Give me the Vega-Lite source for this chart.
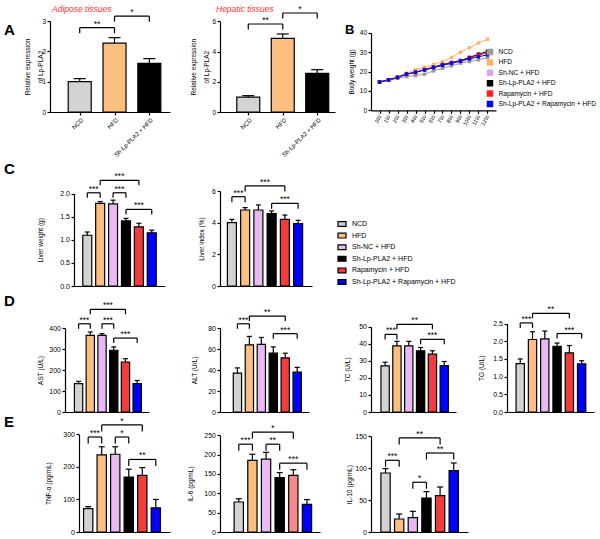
{
"$schema":"https://vega.github.io/schema/vega-lite/v6.json",
"padding":{"left":4,"top":4,"right":0,"bottom":2},
"bounds":"flush",
"align":"none",
"columns":4,
"spacing":0,
"resolve":{"scale":{"fill":"independent","color":"independent"}},
"title":{"text":"A","anchor":"start","frame":"group","fontSize":15,"fontWeight":"bold","offset":0,"dx":-46,"dy":45,"baseline":"alphabetic"},
"config":{"font":"Liberation Sans","view":{"stroke":null},
"axis":{"grid":false,"domainColor":"#000","domainWidth":1.2,"tickColor":"#000","tickWidth":1.2,"tickSize":3,"labelColor":"#000","labelFontSize":7,"titleColor":"#000","titleFontSize":6.5,"titleFontWeight":"normal","labelPadding":1.5},
"axisX":{"labels":false,"ticks":false},
"legend":{"labelColor":"#000"},
"title":{"color":"#000"}},
"datasets":{
"d":[
{"p":"A1","g":"NCD","i":1,"m":1.0,"hi":1.1},
{"p":"A1","g":"HFD","i":2,"m":2.27,"hi":2.45},
{"p":"A1","g":"Sh-Lp-PLA2 + HFD","i":3,"m":1.6,"hi":1.76},
{"p":"A1","b":1,"i":1,"to":2,"m":2.78,"t":"**"},
{"p":"A1","b":2,"i":2,"to":3,"m":3.16,"t":"*"},
{"p":"A2","g":"NCD","i":1,"m":0.98,"hi":1.08},
{"p":"A2","g":"HFD","i":2,"m":4.87,"hi":5.16},
{"p":"A2","g":"Sh-Lp-PLA2 + HFD","i":3,"m":2.55,"hi":2.8},
{"p":"A2","b":1,"i":1,"to":2,"m":5.82,"t":"**"},
{"p":"A2","b":2,"i":2,"to":3,"m":6.55,"t":"*"},
{"p":"C1","g":"NCD","i":1,"m":1.1,"hi":1.17},
{"p":"C1","g":"HFD","i":2,"m":1.79,"hi":1.83},
{"p":"C1","g":"Sh-NC + HFD","i":3,"m":1.78,"hi":1.86},
{"p":"C1","g":"Sh-Lp-PLA2 + HFD","i":4,"m":1.41,"hi":1.465},
{"p":"C1","g":"Rapamycin + HFD","i":5,"m":1.28,"hi":1.36},
{"p":"C1","g":"Sh-Lp-PLA2 + Rapamycin + HFD","i":6,"m":1.15,"hi":1.21},
{"p":"C1","b":1,"i":1,"to":2,"m":2.02,"t":"***"},
{"p":"C1","b":2,"i":2,"to":5,"m":2.29,"t":"***"},
{"p":"C1","b":3,"i":3,"to":4,"m":2.02,"t":"***"},
{"p":"C1","b":4,"i":4,"to":6,"m":1.66,"t":"***"},
{"p":"C2","g":"NCD","i":1,"m":4.0,"hi":4.21},
{"p":"C2","g":"HFD","i":2,"m":4.8,"hi":4.95},
{"p":"C2","g":"Sh-NC + HFD","i":3,"m":4.8,"hi":5.12},
{"p":"C2","g":"Sh-Lp-PLA2 + HFD","i":4,"m":4.57,"hi":4.74},
{"p":"C2","g":"Rapamycin + HFD","i":5,"m":4.21,"hi":4.48},
{"p":"C2","g":"Sh-Lp-PLA2 + Rapamycin + HFD","i":6,"m":3.94,"hi":4.15},
{"p":"C2","b":1,"i":1,"to":2,"m":5.64,"t":"***"},
{"p":"C2","b":2,"i":2,"to":5,"m":6.32,"t":"***"},
{"p":"C2","b":3,"i":4,"to":6,"m":5.22,"t":"***"},
{"p":"AST","g":"NCD","i":1,"m":135,"hi":146},
{"p":"AST","g":"HFD","i":2,"m":365,"hi":381},
{"p":"AST","g":"Sh-NC + HFD","i":3,"m":365,"hi":373},
{"p":"AST","g":"Sh-Lp-PLA2 + HFD","i":4,"m":294,"hi":310},
{"p":"AST","g":"Rapamycin + HFD","i":5,"m":238,"hi":254},
{"p":"AST","g":"Sh-Lp-PLA2 + Rapamycin + HFD","i":6,"m":135,"hi":150},
{"p":"AST","b":1,"i":1,"to":2,"m":420,"t":"***"},
{"p":"AST","b":2,"i":2,"to":5,"m":489,"t":"***"},
{"p":"AST","b":3,"i":3,"to":4,"m":420,"t":"***"},
{"p":"AST","b":4,"i":4,"to":6,"m":352,"t":"***"},
{"p":"ALT","g":"NCD","i":1,"m":37,"hi":42},
{"p":"ALT","g":"HFD","i":2,"m":64,"hi":72},
{"p":"ALT","g":"Sh-NC + HFD","i":3,"m":64.5,"hi":71},
{"p":"ALT","g":"Sh-Lp-PLA2 + HFD","i":4,"m":56,"hi":62},
{"p":"ALT","g":"Rapamycin + HFD","i":5,"m":51.5,"hi":56},
{"p":"ALT","g":"Sh-Lp-PLA2 + Rapamycin + HFD","i":6,"m":38,"hi":42.5},
{"p":"ALT","b":1,"i":1,"to":2,"m":84,"t":"***"},
{"p":"ALT","b":2,"i":2,"to":5,"m":91.4,"t":"**"},
{"p":"ALT","b":3,"i":4,"to":6,"m":74.6,"t":"***"},
{"p":"TC","g":"NCD","i":1,"m":27,"hi":29.2},
{"p":"TC","g":"HFD","i":2,"m":38.8,"hi":41.4},
{"p":"TC","g":"Sh-NC + HFD","i":3,"m":38.8,"hi":41.4},
{"p":"TC","g":"Sh-Lp-PLA2 + HFD","i":4,"m":35.9,"hi":37.8},
{"p":"TC","g":"Rapamycin + HFD","i":5,"m":33.9,"hi":35.9},
{"p":"TC","g":"Sh-Lp-PLA2 + Rapamycin + HFD","i":6,"m":27.2,"hi":29.6},
{"p":"TC","b":1,"i":1,"to":2,"m":45.5,"t":"***"},
{"p":"TC","b":2,"i":2,"to":5,"m":51.4,"t":"**"},
{"p":"TC","b":3,"i":4,"to":6,"m":42.6,"t":"***"},
{"p":"TG","g":"NCD","i":1,"m":1.37,"hi":1.5},
{"p":"TG","g":"HFD","i":2,"m":2.05,"hi":2.27},
{"p":"TG","g":"Sh-NC + HFD","i":3,"m":2.07,"hi":2.29},
{"p":"TG","g":"Sh-Lp-PLA2 + HFD","i":4,"m":1.86,"hi":1.95},
{"p":"TG","g":"Rapamycin + HFD","i":5,"m":1.67,"hi":1.88},
{"p":"TG","g":"Sh-Lp-PLA2 + Rapamycin + HFD","i":6,"m":1.36,"hi":1.45},
{"p":"TG","b":1,"i":1,"to":2,"m":2.52,"t":"***"},
{"p":"TG","b":2,"i":2,"to":5,"m":2.79,"t":"**"},
{"p":"TG","b":3,"i":4,"to":6,"m":2.22,"t":"***"},
{"p":"TNF","g":"NCD","i":1,"m":72,"hi":78},
{"p":"TNF","g":"HFD","i":2,"m":237,"hi":262},
{"p":"TNF","g":"Sh-NC + HFD","i":3,"m":239,"hi":262},
{"p":"TNF","g":"Sh-Lp-PLA2 + HFD","i":4,"m":169,"hi":193},
{"p":"TNF","g":"Rapamycin + HFD","i":5,"m":174,"hi":198},
{"p":"TNF","g":"Sh-Lp-PLA2 + Rapamycin + HFD","i":6,"m":74,"hi":100},
{"p":"TNF","b":1,"i":1,"to":2,"m":292,"t":"***"},
{"p":"TNF","b":2,"i":2,"to":5,"m":329,"t":"*"},
{"p":"TNF","b":3,"i":3,"to":4,"m":292,"t":"*"},
{"p":"TNF","b":4,"i":4,"to":6,"m":223,"t":"**"},
{"p":"IL6","g":"NCD","i":1,"m":77.6,"hi":86},
{"p":"IL6","g":"HFD","i":2,"m":185,"hi":201},
{"p":"IL6","g":"Sh-NC + HFD","i":3,"m":188.6,"hi":206},
{"p":"IL6","g":"Sh-Lp-PLA2 + HFD","i":4,"m":140.5,"hi":153.5},
{"p":"IL6","g":"Rapamycin + HFD","i":5,"m":146.5,"hi":161},
{"p":"IL6","g":"Sh-Lp-PLA2 + Rapamycin + HFD","i":6,"m":71.6,"hi":83.7},
{"p":"IL6","b":1,"i":1,"to":2,"m":227,"t":"***"},
{"p":"IL6","b":2,"i":2,"to":5,"m":258,"t":"*"},
{"p":"IL6","b":3,"i":3,"to":4,"m":227,"t":"**"},
{"p":"IL6","b":4,"i":4,"to":6,"m":178,"t":"***"},
{"p":"IL10","g":"NCD","i":1,"m":92.5,"hi":99.4},
{"p":"IL10","g":"HFD","i":2,"m":20.4,"hi":28.2},
{"p":"IL10","g":"Sh-NC + HFD","i":3,"m":22.6,"hi":32.4},
{"p":"IL10","g":"Sh-Lp-PLA2 + HFD","i":4,"m":53.3,"hi":63.3},
{"p":"IL10","g":"Rapamycin + HFD","i":5,"m":57,"hi":70.5},
{"p":"IL10","g":"Sh-Lp-PLA2 + Rapamycin + HFD","i":6,"m":96.2,"hi":108.2},
{"p":"IL10","b":1,"i":1,"to":2,"m":112.4,"t":"***"},
{"p":"IL10","b":2,"i":2,"to":5,"m":147.4,"t":"**"},
{"p":"IL10","b":3,"i":3,"to":4,"m":78,"t":"*"},
{"p":"IL10","b":4,"i":4,"to":6,"m":123.8,"t":"**"}
],
"bw":[
{"g":"NCD","w":0,"v":14.6},{"g":"NCD","w":1,"v":15.5},{"g":"NCD","w":2,"v":16.5},{"g":"NCD","w":3,"v":17.4},{"g":"NCD","w":4,"v":17.9},{"g":"NCD","w":5,"v":18.6},{"g":"NCD","w":6,"v":20.3},{"g":"NCD","w":7,"v":21.7},{"g":"NCD","w":8,"v":22.9},{"g":"NCD","w":9,"v":24.3},{"g":"NCD","w":10,"v":25.1},{"g":"NCD","w":11,"v":26.0},{"g":"NCD","w":12,"v":27.2},
{"g":"HFD","w":0,"v":14.6},{"g":"HFD","w":1,"v":15.7},{"g":"HFD","w":2,"v":17.3},{"g":"HFD","w":3,"v":19.1},{"g":"HFD","w":4,"v":20.9},{"g":"HFD","w":5,"v":22.2},{"g":"HFD","w":6,"v":23.6},{"g":"HFD","w":7,"v":25.1},{"g":"HFD","w":8,"v":27.3},{"g":"HFD","w":9,"v":29.9},{"g":"HFD","w":10,"v":32.3},{"g":"HFD","w":11,"v":34.7},{"g":"HFD","w":12,"v":36.6},
{"g":"Sh-NC + HFD","w":0,"v":14.6},{"g":"Sh-NC + HFD","w":1,"v":15.6},{"g":"Sh-NC + HFD","w":2,"v":17.0},{"g":"Sh-NC + HFD","w":3,"v":18.8},{"g":"Sh-NC + HFD","w":4,"v":19.7},{"g":"Sh-NC + HFD","w":5,"v":21.1},{"g":"Sh-NC + HFD","w":6,"v":22.3},{"g":"Sh-NC + HFD","w":7,"v":23.7},{"g":"Sh-NC + HFD","w":8,"v":24.8},{"g":"Sh-NC + HFD","w":9,"v":25.8},{"g":"Sh-NC + HFD","w":10,"v":27.4},{"g":"Sh-NC + HFD","w":11,"v":29.0},{"g":"Sh-NC + HFD","w":12,"v":30.5},
{"g":"Sh-Lp-PLA2 + HFD","w":0,"v":14.6},{"g":"Sh-Lp-PLA2 + HFD","w":1,"v":15.6},{"g":"Sh-Lp-PLA2 + HFD","w":2,"v":16.9},{"g":"Sh-Lp-PLA2 + HFD","w":3,"v":18.7},{"g":"Sh-Lp-PLA2 + HFD","w":4,"v":19.5},{"g":"Sh-Lp-PLA2 + HFD","w":5,"v":21.0},{"g":"Sh-Lp-PLA2 + HFD","w":6,"v":22.2},{"g":"Sh-Lp-PLA2 + HFD","w":7,"v":23.6},{"g":"Sh-Lp-PLA2 + HFD","w":8,"v":24.6},{"g":"Sh-Lp-PLA2 + HFD","w":9,"v":25.6},{"g":"Sh-Lp-PLA2 + HFD","w":10,"v":27.2},{"g":"Sh-Lp-PLA2 + HFD","w":11,"v":28.9},{"g":"Sh-Lp-PLA2 + HFD","w":12,"v":30.3},
{"g":"Rapamycin + HFD","w":0,"v":14.6},{"g":"Rapamycin + HFD","w":1,"v":15.6},{"g":"Rapamycin + HFD","w":2,"v":16.9},{"g":"Rapamycin + HFD","w":3,"v":18.6},{"g":"Rapamycin + HFD","w":4,"v":19.6},{"g":"Rapamycin + HFD","w":5,"v":20.9},{"g":"Rapamycin + HFD","w":6,"v":22.0},{"g":"Rapamycin + HFD","w":7,"v":23.3},{"g":"Rapamycin + HFD","w":8,"v":24.4},{"g":"Rapamycin + HFD","w":9,"v":25.4},{"g":"Rapamycin + HFD","w":10,"v":26.8},{"g":"Rapamycin + HFD","w":11,"v":28.4},{"g":"Rapamycin + HFD","w":12,"v":29.6},
{"g":"Sh-Lp-PLA2 + Rapamycin + HFD","w":0,"v":14.6},{"g":"Sh-Lp-PLA2 + Rapamycin + HFD","w":1,"v":15.7},{"g":"Sh-Lp-PLA2 + Rapamycin + HFD","w":2,"v":17.0},{"g":"Sh-Lp-PLA2 + Rapamycin + HFD","w":3,"v":18.6},{"g":"Sh-Lp-PLA2 + Rapamycin + HFD","w":4,"v":19.6},{"g":"Sh-Lp-PLA2 + Rapamycin + HFD","w":5,"v":20.8},{"g":"Sh-Lp-PLA2 + Rapamycin + HFD","w":6,"v":22.0},{"g":"Sh-Lp-PLA2 + Rapamycin + HFD","w":7,"v":23.2},{"g":"Sh-Lp-PLA2 + Rapamycin + HFD","w":8,"v":24.2},{"g":"Sh-Lp-PLA2 + Rapamycin + HFD","w":9,"v":25.3},{"g":"Sh-Lp-PLA2 + Rapamycin + HFD","w":10,"v":26.5},{"g":"Sh-Lp-PLA2 + Rapamycin + HFD","w":11,"v":27.6},{"g":"Sh-Lp-PLA2 + Rapamycin + HFD","w":12,"v":28.6}
]},
"concat":[
 {"width":159,"height":91,
  "title":{"text":"Adipose tissues","anchor":"start","frame":"group","fontSize":8.5,"fontStyle":"italic","fontWeight":"normal","color":"#ff3030","offset":0,"dx":2,"dy":12.7,"baseline":"alphabetic"},
  "data":{"name":"d"},"transform":[{"filter":{"field":"p","equal":"A1"}}],
  "encoding":{"x":{"field":"i","type":"quantitative","scale":{"domain":[0.29,3.45],"range":[0,120],"zero":false,"nice":false},"axis":{"title":null,"labels":true,"ticks":true,"values":[1,2,3],"labelExpr":"['','NCD','HFD','Sh-Lp-PLA2 + HFD'][datum.value]","labelAngle":-45,"labelFontSize":6,"labelOverlap":false}},
   "y":{"field":"m","type":"quantitative","scale":{"domain":[0,3],"range":[91,0],"nice":false},"axis":{"title":["Relative expression","of Lp-PLA2"],"values":[0,1,2,3],"titlePadding":-2,"titleLineHeight":13.5,"labelFontSize":6.5}}},
  "layer":[
   {"transform":[{"filter":"isValid(datum.hi)"}],"mark":{"type":"bar","orient":"vertical","size":23,"stroke":"black","strokeWidth":1.2},"encoding":{"fill":{"field":"g","type":"nominal","scale":{"domain":["NCD","HFD","Sh-NC + HFD","Sh-Lp-PLA2 + HFD","Rapamycin + HFD","Sh-Lp-PLA2 + Rapamycin + HFD"],"range":["#d3d3d3","#fdbf80","#e8b9f3","#000000","#f23b3b","#0000ff"]},"legend":null}}},
   {"transform":[{"filter":"isValid(datum.hi)"}],"mark":{"type":"rule","strokeWidth":1.2},"encoding":{"y2":{"field":"hi"}}},
   {"transform":[{"filter":"isValid(datum.hi)"}],"mark":{"type":"rule","strokeWidth":1.2,"xOffset":-6,"x2Offset":6},"encoding":{"x2":{"field":"i"},"y":{"field":"hi","type":"quantitative"}}},
   {"transform":[{"filter":"isValid(datum.t)"}],"mark":{"type":"rule","strokeWidth":1.2},"encoding":{"x2":{"field":"to"}}},
   {"transform":[{"filter":"isValid(datum.t)"},{"fold":["i","to"],"as":["e","i"]}],"mark":{"type":"rule","strokeWidth":1.2,"y2Offset":5.5},"encoding":{"y2":{"field":"m"}}},
   {"transform":[{"filter":"isValid(datum.t)"},{"fold":["i","to"],"as":["e","i"]},{"aggregate":[{"op":"mean","field":"i","as":"i"}],"groupby":["b","m","t"]}],"mark":{"type":"text","fontSize":8.5,"baseline":"alphabetic","dy":-1},"encoding":{"text":{"field":"t","type":"nominal"}}}
  ]},
 {"width":151,"height":91,
  "title":{"text":"Hepatic tissues","anchor":"start","frame":"group","fontSize":8.5,"fontStyle":"italic","fontWeight":"normal","color":"#ff3030","offset":0,"dx":-4,"dy":15.8,"baseline":"alphabetic"},
  "data":{"name":"d"},"transform":[{"filter":{"field":"p","equal":"A2"}}],
  "encoding":{"x":{"field":"i","type":"quantitative","scale":{"domain":[0.325,3.37],"range":[0,115],"zero":false,"nice":false},"axis":{"title":null,"labels":true,"ticks":true,"values":[1,2,3],"labelExpr":"['','NCD','HFD','Sh-Lp-PLA2 + HFD'][datum.value]","labelAngle":-45,"labelFontSize":6,"labelOverlap":false}},
   "y":{"field":"m","type":"quantitative","scale":{"domain":[0,6],"range":[91,0.3],"nice":false},"axis":{"title":["Relative expression","of Lp-PLA2"],"values":[0,2,4,6],"titlePadding":2,"titleLineHeight":13.5,"labelFontSize":6.5}}},
  "layer":[
   {"transform":[{"filter":"isValid(datum.hi)"}],"mark":{"type":"bar","orient":"vertical","size":23,"stroke":"black","strokeWidth":1.2},"encoding":{"fill":{"field":"g","type":"nominal","scale":{"domain":["NCD","HFD","Sh-NC + HFD","Sh-Lp-PLA2 + HFD","Rapamycin + HFD","Sh-Lp-PLA2 + Rapamycin + HFD"],"range":["#d3d3d3","#fdbf80","#e8b9f3","#000000","#f23b3b","#0000ff"]},"legend":null}}},
   {"transform":[{"filter":"isValid(datum.hi)"}],"mark":{"type":"rule","strokeWidth":1.2},"encoding":{"y2":{"field":"hi"}}},
   {"transform":[{"filter":"isValid(datum.hi)"}],"mark":{"type":"rule","strokeWidth":1.2,"xOffset":-6,"x2Offset":6},"encoding":{"x2":{"field":"i"},"y":{"field":"hi","type":"quantitative"}}},
   {"transform":[{"filter":"isValid(datum.t)"}],"mark":{"type":"rule","strokeWidth":1.2},"encoding":{"x2":{"field":"to"}}},
   {"transform":[{"filter":"isValid(datum.t)"},{"fold":["i","to"],"as":["e","i"]}],"mark":{"type":"rule","strokeWidth":1.2,"y2Offset":5.5},"encoding":{"y2":{"field":"m"}}},
   {"transform":[{"filter":"isValid(datum.t)"},{"fold":["i","to"],"as":["e","i"]},{"aggregate":[{"op":"mean","field":"i","as":"i"}],"groupby":["b","m","t"]}],"mark":{"type":"text","fontSize":8.5,"baseline":"alphabetic","dy":-1},"encoding":{"text":{"field":"t","type":"nominal"}}}
  ]},
 {"width":125,"height":91,
  "title":{"text":"B","anchor":"start","frame":"group","fontSize":13,"fontWeight":"bold","offset":0,"dx":-26,"dy":26,"baseline":"alphabetic"},
  "data":{"name":"bw"},
  "encoding":{"x":{"field":"w","type":"ordinal","scale":{"type":"point","padding":0.95},"axis":{"title":null,"labels":true,"ticks":true,"offset":-1.7,"labelAngle":-60,"labelExpr":"datum.label + 'W'","labelFontSize":5.5,"labelOverlap":false}},
   "y":{"field":"v","type":"quantitative","scale":{"domain":[0,40],"range":[89.3,11.7],"nice":false},"axis":{"title":"Body weight (g)","values":[0,10,20,30,40],"titlePadding":5,"labelFontSize":6.5}},
   "color":{"field":"g","type":"nominal","scale":{"domain":["NCD","HFD","Sh-NC + HFD","Sh-Lp-PLA2 + HFD","Rapamycin + HFD","Sh-Lp-PLA2 + Rapamycin + HFD"],"range":["#9a9a9a","#ffb36b","#d9a6ee","#000000","#ff1f1f","#0000ff"]},"legend":{"orient":"none","legendX":115.5,"legendY":27.5,"title":null,"symbolType":"square","symbolSize":25,"labelFontSize":6.6,"rowPadding":-0.6,"labelOffset":5}}},
  "layer":[{"mark":{"type":"line","strokeWidth":1}},{"mark":{"type":"point","shape":"square","filled":true,"size":12,"opacity":1}}]},
 {"width":1,"height":91,"data":{"values":[]},"mark":"point"},
 {"width":170,"height":174,"data":{"name":"d"},"transform":[{"filter":{"field":"p","equal":"C1"}}],
  "title":{"text":"C","anchor":"start","frame":"group","fontSize":15,"fontWeight":"bold","offset":0,"dx":-46,"dy":77,"baseline":"alphabetic"},
  "encoding":{"x":{"field":"i","type":"quantitative","scale":{"domain":[0.358,6.64],"range":[24,115],"zero":false,"nice":false},"axis":{"title":null}},
   "y":{"field":"m","type":"quantitative","scale":{"domain":[0,2],"range":[174,81.7],"nice":false},"axis":{"title":"Liver weight (g)","values":[0,0.5,1,1.5,2],"format":".1f","titlePadding":16,"offset":-24}}},
  "layer":[
   {"transform":[{"filter":"isValid(datum.hi)"}],"mark":{"type":"bar","orient":"vertical","size":9,"stroke":"black","strokeWidth":1.2},"encoding":{"fill":{"field":"g","type":"nominal","scale":{"domain":["NCD","HFD","Sh-NC + HFD","Sh-Lp-PLA2 + HFD","Rapamycin + HFD","Sh-Lp-PLA2 + Rapamycin + HFD"],"range":["#d3d3d3","#fdbf80","#e8b9f3","#000000","#f23b3b","#0000ff"]},"legend":null}}},
   {"transform":[{"filter":"isValid(datum.hi)"}],"mark":{"type":"rule","strokeWidth":1.2},"encoding":{"y2":{"field":"hi"}}},
   {"transform":[{"filter":"isValid(datum.hi)"}],"mark":{"type":"rule","strokeWidth":1.2,"xOffset":-2.5,"x2Offset":2.5},"encoding":{"x2":{"field":"i"},"y":{"field":"hi","type":"quantitative"}}},
   {"transform":[{"filter":"isValid(datum.t)"}],"mark":{"type":"rule","strokeWidth":1.2},"encoding":{"x2":{"field":"to"}}},
   {"transform":[{"filter":"isValid(datum.t)"},{"fold":["i","to"],"as":["e","i"]}],"mark":{"type":"rule","strokeWidth":1.2,"y2Offset":5},"encoding":{"y2":{"field":"m"}}},
   {"transform":[{"filter":"isValid(datum.t)"},{"fold":["i","to"],"as":["e","i"]},{"aggregate":[{"op":"mean","field":"i","as":"i"}],"groupby":["b","m","t"]}],"mark":{"type":"text","fontSize":8.5,"baseline":"alphabetic","dy":-1},"encoding":{"text":{"field":"t","type":"nominal"}}}
  ]},
 {"width":92,"height":174,"data":{"name":"d"},"transform":[{"filter":{"field":"p","equal":"C2"}}],
  "encoding":{"x":{"field":"i","type":"quantitative","scale":{"domain":[0.48,6.67],"range":[0,92],"zero":false,"nice":false},"axis":{"title":null}},
   "y":{"field":"m","type":"quantitative","scale":{"domain":[0,6],"range":[174,79],"nice":false},"axis":{"title":"Liver index (%)","values":[0,2,4,6],"titlePadding":7}}},
  "layer":[
   {"transform":[{"filter":"isValid(datum.hi)"}],"mark":{"type":"bar","orient":"vertical","size":9,"stroke":"black","strokeWidth":1.2},"encoding":{"fill":{"field":"g","type":"nominal","scale":{"domain":["NCD","HFD","Sh-NC + HFD","Sh-Lp-PLA2 + HFD","Rapamycin + HFD","Sh-Lp-PLA2 + Rapamycin + HFD"],"range":["#d3d3d3","#fdbf80","#e8b9f3","#000000","#f23b3b","#0000ff"]},"legend":{"orient":"none","legendX":117,"legendY":107,"title":null,"symbolType":"M-1,-0.6H1V0.6H-1Z","symbolSize":64,"symbolStrokeColor":"black","symbolStrokeWidth":1.2,"labelFontSize":7,"rowPadding":1.6,"labelOffset":5}}}},
   {"transform":[{"filter":"isValid(datum.hi)"}],"mark":{"type":"rule","strokeWidth":1.2},"encoding":{"y2":{"field":"hi"}}},
   {"transform":[{"filter":"isValid(datum.hi)"}],"mark":{"type":"rule","strokeWidth":1.2,"xOffset":-2.5,"x2Offset":2.5},"encoding":{"x2":{"field":"i"},"y":{"field":"hi","type":"quantitative"}}},
   {"transform":[{"filter":"isValid(datum.t)"}],"mark":{"type":"rule","strokeWidth":1.2},"encoding":{"x2":{"field":"to"}}},
   {"transform":[{"filter":"isValid(datum.t)"},{"fold":["i","to"],"as":["e","i"]}],"mark":{"type":"rule","strokeWidth":1.2,"y2Offset":5.5},"encoding":{"y2":{"field":"m"}}},
   {"transform":[{"filter":"isValid(datum.t)"},{"fold":["i","to"],"as":["e","i"]},{"aggregate":[{"op":"mean","field":"i","as":"i"}],"groupby":["b","m","t"]}],"mark":{"type":"text","fontSize":8.5,"baseline":"alphabetic","dy":-1},"encoding":{"text":{"field":"t","type":"nominal"}}}
  ]},
 {"width":1,"height":174,"data":{"values":[]},"mark":"point"},
 {"width":1,"height":174,"data":{"values":[]},"mark":"point"},
 {"width":148,"height":126,"data":{"name":"d"},"transform":[{"filter":{"field":"p","equal":"AST"}}],
  "title":{"text":"D","anchor":"start","frame":"group","fontSize":15,"fontWeight":"bold","offset":0,"dx":-46,"dy":35,"baseline":"alphabetic"},
  "encoding":{"x":{"field":"i","type":"quantitative","scale":{"domain":[0.27,6.58],"range":[15,99],"zero":false,"nice":false},"axis":{"title":null}},
   "y":{"field":"m","type":"quantitative","scale":{"domain":[0,400],"range":[126,42],"nice":false},"axis":{"title":"AST (U/L)","values":[0,100,200,300,400],"titlePadding":5,"offset":-15}}},
  "layer":[
   {"transform":[{"filter":"isValid(datum.hi)"}],"mark":{"type":"bar","orient":"vertical","size":8.3,"stroke":"black","strokeWidth":1.2},"encoding":{"fill":{"field":"g","type":"nominal","scale":{"domain":["NCD","HFD","Sh-NC + HFD","Sh-Lp-PLA2 + HFD","Rapamycin + HFD","Sh-Lp-PLA2 + Rapamycin + HFD"],"range":["#d3d3d3","#fdbf80","#e8b9f3","#000000","#f23b3b","#0000ff"]},"legend":null}}},
   {"transform":[{"filter":"isValid(datum.hi)"}],"mark":{"type":"rule","strokeWidth":1.2},"encoding":{"y2":{"field":"hi"}}},
   {"transform":[{"filter":"isValid(datum.hi)"}],"mark":{"type":"rule","strokeWidth":1.2,"xOffset":-2.5,"x2Offset":2.5},"encoding":{"x2":{"field":"i"},"y":{"field":"hi","type":"quantitative"}}},
   {"transform":[{"filter":"isValid(datum.t)"}],"mark":{"type":"rule","strokeWidth":1.2},"encoding":{"x2":{"field":"to"}}},
   {"transform":[{"filter":"isValid(datum.t)"},{"fold":["i","to"],"as":["e","i"]}],"mark":{"type":"rule","strokeWidth":1.2,"y2Offset":5},"encoding":{"y2":{"field":"m"}}},
   {"transform":[{"filter":"isValid(datum.t)"},{"fold":["i","to"],"as":["e","i"]},{"aggregate":[{"op":"mean","field":"i","as":"i"}],"groupby":["b","m","t"]}],"mark":{"type":"text","fontSize":8.5,"baseline":"alphabetic","dy":-1},"encoding":{"text":{"field":"t","type":"nominal"}}}
  ]},
 {"width":141,"height":126,"data":{"name":"d"},"transform":[{"filter":{"field":"p","equal":"ALT"}}],
  "encoding":{"x":{"field":"i","type":"quantitative","scale":{"domain":[-0.04,6.57],"range":[0,89],"zero":false,"nice":false},"axis":{"title":null}},
   "y":{"field":"m","type":"quantitative","scale":{"domain":[0,80],"range":[126,42],"nice":false},"axis":{"title":"ALT (U/L)","values":[0,20,40,60,80],"titlePadding":10}}},
  "layer":[
   {"transform":[{"filter":"isValid(datum.hi)"}],"mark":{"type":"bar","orient":"vertical","size":8.3,"stroke":"black","strokeWidth":1.2},"encoding":{"fill":{"field":"g","type":"nominal","scale":{"domain":["NCD","HFD","Sh-NC + HFD","Sh-Lp-PLA2 + HFD","Rapamycin + HFD","Sh-Lp-PLA2 + Rapamycin + HFD"],"range":["#d3d3d3","#fdbf80","#e8b9f3","#000000","#f23b3b","#0000ff"]},"legend":null}}},
   {"transform":[{"filter":"isValid(datum.hi)"}],"mark":{"type":"rule","strokeWidth":1.2},"encoding":{"y2":{"field":"hi"}}},
   {"transform":[{"filter":"isValid(datum.hi)"}],"mark":{"type":"rule","strokeWidth":1.2,"xOffset":-2.5,"x2Offset":2.5},"encoding":{"x2":{"field":"i"},"y":{"field":"hi","type":"quantitative"}}},
   {"transform":[{"filter":"isValid(datum.t)"}],"mark":{"type":"rule","strokeWidth":1.2},"encoding":{"x2":{"field":"to"}}},
   {"transform":[{"filter":"isValid(datum.t)"},{"fold":["i","to"],"as":["e","i"]}],"mark":{"type":"rule","strokeWidth":1.2,"y2Offset":5},"encoding":{"y2":{"field":"m"}}},
   {"transform":[{"filter":"isValid(datum.t)"},{"fold":["i","to"],"as":["e","i"]},{"aggregate":[{"op":"mean","field":"i","as":"i"}],"groupby":["b","m","t"]}],"mark":{"type":"text","fontSize":8.5,"baseline":"alphabetic","dy":-1},"encoding":{"text":{"field":"t","type":"nominal"}}}
  ]},
 {"width":136,"height":126,"data":{"name":"d"},"transform":[{"filter":{"field":"p","equal":"TC"}}],
  "encoding":{"x":{"field":"i","type":"quantitative","scale":{"domain":[0.23,6.57],"range":[0,85],"zero":false,"nice":false},"axis":{"title":null}},
   "y":{"field":"m","type":"quantitative","scale":{"domain":[0,50],"range":[126,40.7],"nice":false},"axis":{"title":"TC (U/L)","values":[0,10,20,30,40,50],"titlePadding":8}}},
  "layer":[
   {"transform":[{"filter":"isValid(datum.hi)"}],"mark":{"type":"bar","orient":"vertical","size":8.3,"stroke":"black","strokeWidth":1.2},"encoding":{"fill":{"field":"g","type":"nominal","scale":{"domain":["NCD","HFD","Sh-NC + HFD","Sh-Lp-PLA2 + HFD","Rapamycin + HFD","Sh-Lp-PLA2 + Rapamycin + HFD"],"range":["#d3d3d3","#fdbf80","#e8b9f3","#000000","#f23b3b","#0000ff"]},"legend":null}}},
   {"transform":[{"filter":"isValid(datum.hi)"}],"mark":{"type":"rule","strokeWidth":1.2},"encoding":{"y2":{"field":"hi"}}},
   {"transform":[{"filter":"isValid(datum.hi)"}],"mark":{"type":"rule","strokeWidth":1.2,"xOffset":-2.5,"x2Offset":2.5},"encoding":{"x2":{"field":"i"},"y":{"field":"hi","type":"quantitative"}}},
   {"transform":[{"filter":"isValid(datum.t)"}],"mark":{"type":"rule","strokeWidth":1.2},"encoding":{"x2":{"field":"to"}}},
   {"transform":[{"filter":"isValid(datum.t)"},{"fold":["i","to"],"as":["e","i"]}],"mark":{"type":"rule","strokeWidth":1.2,"y2Offset":5},"encoding":{"y2":{"field":"m"}}},
   {"transform":[{"filter":"isValid(datum.t)"},{"fold":["i","to"],"as":["e","i"]},{"aggregate":[{"op":"mean","field":"i","as":"i"}],"groupby":["b","m","t"]}],"mark":{"type":"text","fontSize":8.5,"baseline":"alphabetic","dy":-1},"encoding":{"text":{"field":"t","type":"nominal"}}}
  ]},
 {"width":87,"height":126,"data":{"name":"d"},"transform":[{"filter":{"field":"p","equal":"TG"}}],
  "encoding":{"x":{"field":"i","type":"quantitative","scale":{"domain":[0.33,6.6],"range":[0,87],"zero":false,"nice":false},"axis":{"title":null}},
   "y":{"field":"m","type":"quantitative","scale":{"domain":[0,2.5],"range":[126,37.6],"nice":false},"axis":{"title":"TG (U/L)","values":[0,0.5,1,1.5,2,2.5],"format":".1f","titlePadding":8}}},
  "layer":[
   {"transform":[{"filter":"isValid(datum.hi)"}],"mark":{"type":"bar","orient":"vertical","size":8.3,"stroke":"black","strokeWidth":1.2},"encoding":{"fill":{"field":"g","type":"nominal","scale":{"domain":["NCD","HFD","Sh-NC + HFD","Sh-Lp-PLA2 + HFD","Rapamycin + HFD","Sh-Lp-PLA2 + Rapamycin + HFD"],"range":["#d3d3d3","#fdbf80","#e8b9f3","#000000","#f23b3b","#0000ff"]},"legend":null}}},
   {"transform":[{"filter":"isValid(datum.hi)"}],"mark":{"type":"rule","strokeWidth":1.2},"encoding":{"y2":{"field":"hi"}}},
   {"transform":[{"filter":"isValid(datum.hi)"}],"mark":{"type":"rule","strokeWidth":1.2,"xOffset":-2.5,"x2Offset":2.5},"encoding":{"x2":{"field":"i"},"y":{"field":"hi","type":"quantitative"}}},
   {"transform":[{"filter":"isValid(datum.t)"}],"mark":{"type":"rule","strokeWidth":1.2},"encoding":{"x2":{"field":"to"}}},
   {"transform":[{"filter":"isValid(datum.t)"},{"fold":["i","to"],"as":["e","i"]}],"mark":{"type":"rule","strokeWidth":1.2,"y2Offset":5},"encoding":{"y2":{"field":"m"}}},
   {"transform":[{"filter":"isValid(datum.t)"},{"fold":["i","to"],"as":["e","i"]},{"aggregate":[{"op":"mean","field":"i","as":"i"}],"groupby":["b","m","t"]}],"mark":{"type":"text","fontSize":8.5,"baseline":"alphabetic","dy":-1},"encoding":{"text":{"field":"t","type":"nominal"}}}
  ]},
 {"width":170,"height":120,"data":{"name":"d"},"transform":[{"filter":{"field":"p","equal":"TNF"}}],
  "title":{"text":"E","anchor":"start","frame":"group","fontSize":15,"fontWeight":"bold","offset":0,"dx":-46,"dy":30,"baseline":"alphabetic"},
  "encoding":{"x":{"field":"i","type":"quantitative","scale":{"domain":[0.69,6.68],"range":[29,120],"zero":false,"nice":false},"axis":{"title":null}},
   "y":{"field":"m","type":"quantitative","scale":{"domain":[0,300],"range":[120,22.4],"nice":false},"axis":{"title":"TNF-α (pg/mL)","values":[0,100,200,300],"titlePadding":11,"offset":-29}}},
  "layer":[
   {"transform":[{"filter":"isValid(datum.hi)"}],"mark":{"type":"bar","orient":"vertical","size":9.3,"stroke":"black","strokeWidth":1.2},"encoding":{"fill":{"field":"g","type":"nominal","scale":{"domain":["NCD","HFD","Sh-NC + HFD","Sh-Lp-PLA2 + HFD","Rapamycin + HFD","Sh-Lp-PLA2 + Rapamycin + HFD"],"range":["#d3d3d3","#fdbf80","#e8b9f3","#000000","#f23b3b","#0000ff"]},"legend":null}}},
   {"transform":[{"filter":"isValid(datum.hi)"}],"mark":{"type":"rule","strokeWidth":1.2},"encoding":{"y2":{"field":"hi"}}},
   {"transform":[{"filter":"isValid(datum.hi)"}],"mark":{"type":"rule","strokeWidth":1.2,"xOffset":-3,"x2Offset":3},"encoding":{"x2":{"field":"i"},"y":{"field":"hi","type":"quantitative"}}},
   {"transform":[{"filter":"isValid(datum.t)"}],"mark":{"type":"rule","strokeWidth":1.2},"encoding":{"x2":{"field":"to"}}},
   {"transform":[{"filter":"isValid(datum.t)"},{"fold":["i","to"],"as":["e","i"]}],"mark":{"type":"rule","strokeWidth":1.2,"y2Offset":6.5},"encoding":{"y2":{"field":"m"}}},
   {"transform":[{"filter":"isValid(datum.t)"},{"fold":["i","to"],"as":["e","i"]},{"aggregate":[{"op":"mean","field":"i","as":"i"}],"groupby":["b","m","t"]}],"mark":{"type":"text","fontSize":8.5,"baseline":"alphabetic","dy":-1},"encoding":{"text":{"field":"t","type":"nominal"}}}
  ]},
 {"width":142,"height":120,"data":{"name":"d"},"transform":[{"filter":{"field":"p","equal":"IL6"}}],
  "encoding":{"x":{"field":"i","type":"quantitative","scale":{"domain":[-0.01,6.59],"range":[0,100],"zero":false,"nice":false},"axis":{"title":null}},
   "y":{"field":"m","type":"quantitative","scale":{"domain":[0,250],"range":[120,23.3],"nice":false},"axis":{"title":"IL-6 (pg/mL)","values":[0,50,100,150,200,250],"titlePadding":10}}},
  "layer":[
   {"transform":[{"filter":"isValid(datum.hi)"}],"mark":{"type":"bar","orient":"vertical","size":9.3,"stroke":"black","strokeWidth":1.2},"encoding":{"fill":{"field":"g","type":"nominal","scale":{"domain":["NCD","HFD","Sh-NC + HFD","Sh-Lp-PLA2 + HFD","Rapamycin + HFD","Sh-Lp-PLA2 + Rapamycin + HFD"],"range":["#d3d3d3","#fdbf80","#e8b9f3","#000000","#f5898c","#0000ff"]},"legend":null}}},
   {"transform":[{"filter":"isValid(datum.hi)"}],"mark":{"type":"rule","strokeWidth":1.2},"encoding":{"y2":{"field":"hi"}}},
   {"transform":[{"filter":"isValid(datum.hi)"}],"mark":{"type":"rule","strokeWidth":1.2,"xOffset":-3,"x2Offset":3},"encoding":{"x2":{"field":"i"},"y":{"field":"hi","type":"quantitative"}}},
   {"transform":[{"filter":"isValid(datum.t)"}],"mark":{"type":"rule","strokeWidth":1.2},"encoding":{"x2":{"field":"to"}}},
   {"transform":[{"filter":"isValid(datum.t)"},{"fold":["i","to"],"as":["e","i"]}],"mark":{"type":"rule","strokeWidth":1.2,"y2Offset":6.5},"encoding":{"y2":{"field":"m"}}},
   {"transform":[{"filter":"isValid(datum.t)"},{"fold":["i","to"],"as":["e","i"]},{"aggregate":[{"op":"mean","field":"i","as":"i"}],"groupby":["b","m","t"]}],"mark":{"type":"text","fontSize":8.5,"baseline":"alphabetic","dy":-1},"encoding":{"text":{"field":"t","type":"nominal"}}}
  ]},
 {"width":97,"height":120,"data":{"name":"d"},"transform":[{"filter":{"field":"p","equal":"IL10"}}],
  "encoding":{"x":{"field":"i","type":"quantitative","scale":{"domain":[0.3,6.68],"range":[0,97],"zero":false,"nice":false},"axis":{"title":null}},
   "y":{"field":"m","type":"quantitative","scale":{"domain":[0,150],"range":[120,24.3],"nice":false},"axis":{"title":"IL-10 (pg/mL)","values":[0,50,100,150],"titlePadding":2}}},
  "layer":[
   {"transform":[{"filter":"isValid(datum.hi)"}],"mark":{"type":"bar","orient":"vertical","size":9.3,"stroke":"black","strokeWidth":1.2},"encoding":{"fill":{"field":"g","type":"nominal","scale":{"domain":["NCD","HFD","Sh-NC + HFD","Sh-Lp-PLA2 + HFD","Rapamycin + HFD","Sh-Lp-PLA2 + Rapamycin + HFD"],"range":["#d3d3d3","#fdbf80","#e8b9f3","#000000","#f23b3b","#0000ff"]},"legend":null}}},
   {"transform":[{"filter":"isValid(datum.hi)"}],"mark":{"type":"rule","strokeWidth":1.2},"encoding":{"y2":{"field":"hi"}}},
   {"transform":[{"filter":"isValid(datum.hi)"}],"mark":{"type":"rule","strokeWidth":1.2,"xOffset":-3,"x2Offset":3},"encoding":{"x2":{"field":"i"},"y":{"field":"hi","type":"quantitative"}}},
   {"transform":[{"filter":"isValid(datum.t)"}],"mark":{"type":"rule","strokeWidth":1.2},"encoding":{"x2":{"field":"to"}}},
   {"transform":[{"filter":"isValid(datum.t)"},{"fold":["i","to"],"as":["e","i"]}],"mark":{"type":"rule","strokeWidth":1.2,"y2Offset":6.5},"encoding":{"y2":{"field":"m"}}},
   {"transform":[{"filter":"isValid(datum.t)"},{"fold":["i","to"],"as":["e","i"]},{"aggregate":[{"op":"mean","field":"i","as":"i"}],"groupby":["b","m","t"]}],"mark":{"type":"text","fontSize":8.5,"baseline":"alphabetic","dy":-1},"encoding":{"text":{"field":"t","type":"nominal"}}}
  ]},
 {"width":1,"height":120,"data":{"values":[]},"mark":"point"}
]}
